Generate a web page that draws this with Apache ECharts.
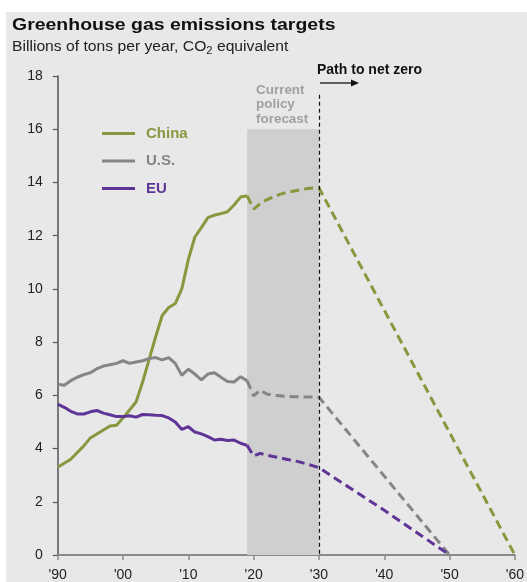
<!DOCTYPE html>
<html>
<head>
<meta charset="utf-8">
<script src="https://cdn.jsdelivr.net/npm/echarts@6/dist/echarts.min.js"></script>
<style>
  html, body { margin: 0; padding: 0; background: #ffffff; }
  #chart { width: 527px; height: 582px; }
</style>
</head>
<body>
<div id="chart"></div>
<script>
// Historical emissions, 1990–2019 (billions of tons CO2e per year)
const histYears = [1990,1991,1992,1993,1994,1995,1996,1997,1998,1999,
                   2000,2001,2002,2003,2004,2005,2006,2007,2008,2009,
                   2010,2011,2012,2013,2014,2015,2016,2017,2018,2019];
const chinaHist = [3.30,3.45,3.60,3.85,4.10,4.40,4.55,4.70,4.85,4.88,
                   5.15,5.45,5.75,6.50,7.35,8.20,9.00,9.30,9.45,10.00,
                   11.10,11.95,12.30,12.68,12.77,12.83,12.90,13.15,13.45,13.50];
const usHist    = [6.42,6.38,6.55,6.68,6.78,6.85,7.00,7.10,7.15,7.20,
                   7.30,7.20,7.25,7.30,7.38,7.42,7.33,7.42,7.20,6.75,
                   6.98,6.80,6.58,6.80,6.85,6.68,6.52,6.50,6.70,6.55];
const euHist    = [5.67,5.55,5.40,5.30,5.30,5.38,5.43,5.33,5.27,5.20,
                   5.20,5.23,5.18,5.28,5.27,5.25,5.24,5.15,5.00,4.72,
                   4.82,4.62,4.55,4.45,4.32,4.35,4.30,4.32,4.20,4.12];

// Current policy forecast to 2030, then the path to net zero
const chinaFcYears = [2019,2020,2021,2022,2023,2024,2025,2026,2027,2028,2029,2030,2060];
const chinaFc      = [13.50,13.00,13.20,13.35,13.45,13.55,13.62,13.67,13.72,13.76,13.79,13.80,0];
const usFcYears    = [2019,2020,2021,2022,2023,2024,2025,2026,2027,2028,2029,2030,2050];
const usFc         = [6.55,5.98,6.20,6.05,6.00,5.98,5.96,5.95,5.95,5.94,5.94,5.93,0];
const euFcYears    = [2019,2020,2021,2022,2023,2024,2025,2026,2027,2028,2029,2030,2040,2050];
const euFc         = [4.12,3.72,3.82,3.75,3.70,3.65,3.60,3.55,3.50,3.43,3.36,3.28,1.68,0];

const seriesNames = ['China', 'U.S.', 'EU'];
const xTickLabels = ["'90","'00","'10","'20","'30","'40","'50","'60"];
const yTickLabels = ['0','2','4','6','8','10','12','14','16','18'];

const colors = { 'China': '#86993f', 'U.S.': '#858585', 'EU': '#5e3596' };
const FONT = '"Liberation Sans", Arial, sans-serif';

const pairs = (xs, ys) => xs.map((x, i) => [x, ys[i]]);

const chart = echarts.init(document.getElementById('chart'), null, { renderer: 'canvas' });

function solid(name, xs, ys) {
  return {
    name, type: 'line', data: pairs(xs, ys), showSymbol: false, symbol: 'none',
    lineStyle: { color: colors[name], width: 3 }, itemStyle: { color: colors[name] },
    z: 3
  };
}
function dashed(name, xs, ys) {
  return {
    name: name + ' forecast', type: 'line', data: pairs(xs, ys), showSymbol: false, symbol: 'none',
    lineStyle: { color: colors[name], width: 3, type: [9, 5] }, itemStyle: { color: colors[name] },
    z: 3
  };
}

const option = {
  animation: false,
  backgroundColor: '#ffffff',
  graphic: [
    { type: 'rect', left: 6, top: 12, shape: { width: 521, height: 570 },
      style: { fill: '#e8e8e8' }, z: -10, silent: true },
    { type: 'text', x: 12, y: 17, scaleX: 1.145,
      style: { text: 'Greenhouse gas emissions targets', font: 'bold 17px ' + FONT, fill: '#111' } },
    { type: 'text', x: 12, y: 39, scaleX: 1.12,
      style: { text: 'Billions of tons per year, CO{s|2} equivalent', font: '14px ' + FONT, fill: '#222',
               rich: { s: { font: '10px ' + FONT, fill: '#222', padding: [7, 0, 0, 0] } } } },
    { type: 'text', x: 256, y: 83, scaleX: 1.12,
      style: { text: 'Current\npolicy\nforecast', font: 'bold 12px ' + FONT, fill: '#a0a0a0', lineHeight: 14.5 } },
    { type: 'text', x: 317, y: 63,
      style: { text: 'Path to net zero', font: 'bold 14px ' + FONT, fill: '#111' } },
    { type: 'line', shape: { x1: 320, y1: 83, x2: 352, y2: 83 },
      style: { stroke: '#111', lineWidth: 1.3 } },
    { type: 'polygon', shape: { points: [[359, 83], [351, 79.5], [351, 86.5]] },
      style: { fill: '#111' } }
  ],
  legend: {
    data: seriesNames.map(n => ({ name: n, textStyle: { color: colors[n] } })),
    orient: 'vertical', left: 97, top: 121, itemGap: 12.5,
    itemWidth: 33, itemHeight: 3, icon: 'rect',
    textStyle: { fontFamily: FONT, fontWeight: 'bold', fontSize: 15, padding: [0, 0, 0, 6] }
  },
  grid: { left: 57.7, right: 9.7, top: 76, bottom: 26, containLabel: false },
  xAxis: {
    type: 'value', min: 1990, max: 2060, interval: 10,
    axisLine: { lineStyle: { color: '#8a8a8a', width: 2 } },
    axisTick: { show: true, length: 5, lineStyle: { color: '#8a8a8a', width: 1.5 } },
    axisLabel: {
      fontFamily: FONT, fontSize: 14, color: '#222', margin: 13,
      formatter: v => xTickLabels[Math.round((v - 1990) / 10)]
    },
    splitLine: { show: false }
  },
  yAxis: {
    type: 'value', min: 0, max: 18, interval: 2,
    axisLine: { show: true, lineStyle: { color: '#555', width: 1.5 } },
    axisTick: { show: true, length: 5, lineStyle: { color: '#555', width: 1.2 } },
    axisLabel: {
      fontFamily: FONT, fontSize: 14, color: '#222', margin: 15,
      formatter: v => yTickLabels[Math.round(v / 2)]
    },
    splitLine: { show: false }
  },
  series: [
    Object.assign(solid('China', histYears, chinaHist), {
      markArea: {
        silent: true, z: 1,
        itemStyle: { color: '#cfcfcf' },
        data: [[{ coord: [2019, 16] }, { coord: [2030, 0] }]]
      },
      markLine: {
        silent: true, symbol: 'none', z: 4,
        label: { show: false },
        lineStyle: { color: '#111', type: [4, 3], width: 1.2 },
        data: [[{ coord: [2030, 17.3] }, { coord: [2030, 0] }]]
      }
    }),
    solid('U.S.', histYears, usHist),
    solid('EU', histYears, euHist),
    dashed('China', chinaFcYears, chinaFc),
    dashed('U.S.', usFcYears, usFc),
    dashed('EU', euFcYears, euFc)
  ]
};

chart.setOption(option);
</script>
</body>
</html>
